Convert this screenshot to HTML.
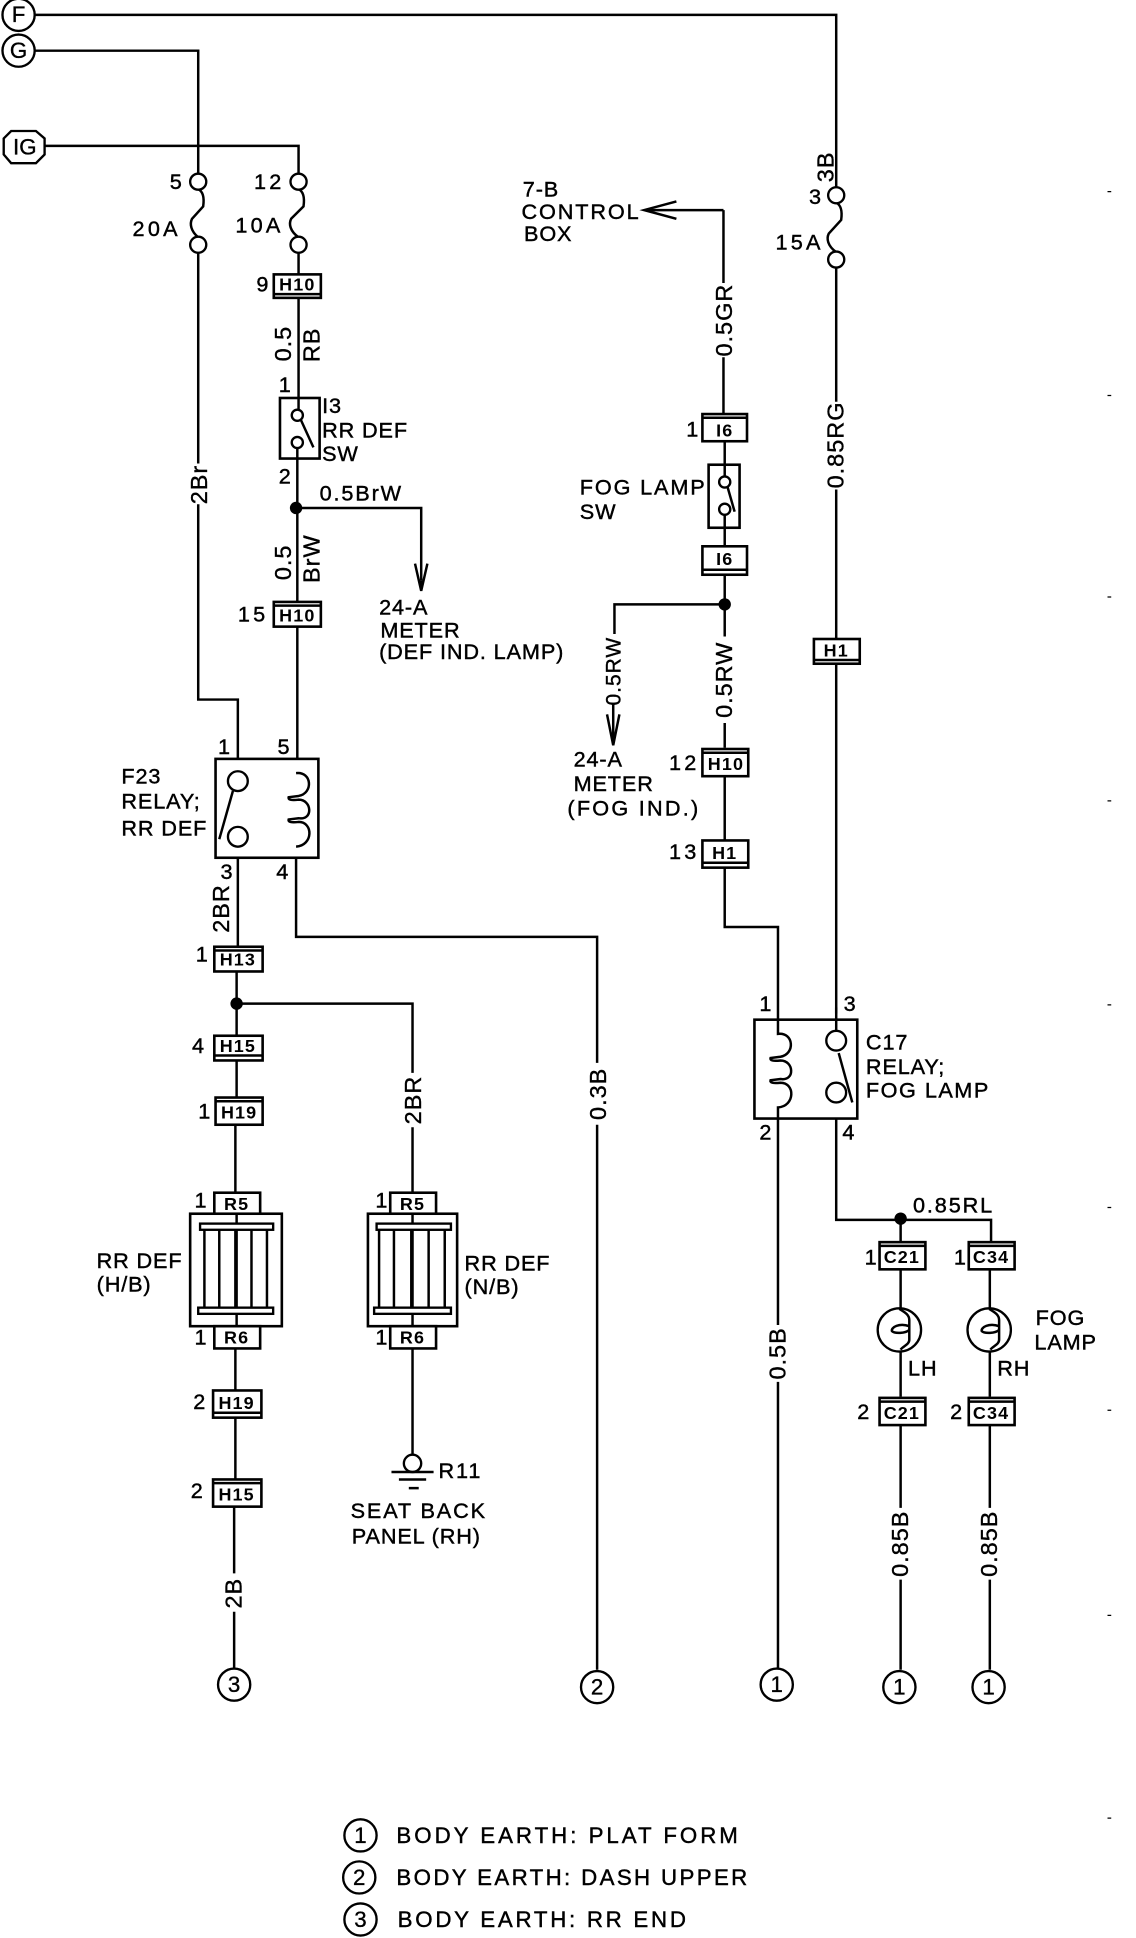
<!DOCTYPE html>
<html><head><meta charset="utf-8"><style>
html,body{margin:0;padding:0;background:#fff}
svg{display:block}
text{font-family:"Liberation Sans",sans-serif;fill:#000}
.t{font-size:17.5px;letter-spacing:.7px;stroke:#000;stroke-width:.35px}
.s{letter-spacing:1.5px}
.a{letter-spacing:2.6px}
.c{font-size:14.5px;font-weight:bold;text-anchor:middle;letter-spacing:.9px}
.r{font-size:19px;text-anchor:middle;letter-spacing:.8px;stroke:#000;stroke-width:.3px}
.m{text-anchor:middle;font-size:18px;stroke:#000;stroke-width:.3px}
.l{font-size:18px;letter-spacing:2.4px;stroke:#000;stroke-width:.35px}
.w{fill:none;stroke:#000;stroke-width:2}
.b{fill:#fff;stroke:#000;stroke-width:2.1}
.k{fill:#fff;stroke:#000;stroke-width:1.9}
</style></head><body>
<svg xmlns="http://www.w3.org/2000/svg" width="1136" height="1938" viewBox="0 0 917 1568" preserveAspectRatio="none">
<!-- wires -->
<path class="w" d="M27 12H675V152M27 41H160V141M35 118H241V141"/>
<path class="w" d="M675 216V325M675 396V820M160 204V375M160 408V566H192V623"/>
<path class="w" d="M241 204V322M240 371V487M239 411H340V470M240 507V626M239 685V758H482V860M482 910V1351"/>
<path class="w" d="M192 684V765M191 785V838M191 812H333V868M333 912V965M191 857V888M190 910V965"/>
<path class="w" d="M190 1090V1125M190 1147V1197M189 1219V1273M189 1304V1350M333 1090V1177"/>
<path class="w" d="M584 170H522M584 170V229M584 289V335M585 357V376M585 427V441M585 465V515M585 585V605M585 628V680M585 702V750H628V825M628 905V1072M628 1118V1350"/>
<path class="w" d="M585 489H496V513M495 570V600"/>
<path class="w" d="M675 850V815M675 893V987H800V1005M727 987V1005M727 1027V1060M799 1027V1060M727 1092V1130M799 1092V1130M727 1153V1220M799 1153V1220M727 1278V1351M799 1278V1351"/>
<circle cx="239" cy="411" r="5"/><circle cx="585" cy="489" r="5"/><circle cx="191" cy="812" r="5"/><circle cx="727" cy="986" r="5"/>
<!-- arrows -->
<path class="w" d="M335 456L340 478L345 456M340 470V477M490 578L495 603L500 578M495 595V602M546 163L520 170L546 177"/>
<!-- terminal circles -->
<circle class="k" cx="15" cy="12" r="13"/><text class="m" x="15" y="18">F</text>
<circle class="k" cx="15" cy="41" r="13"/><text class="m" x="15" y="47">G</text>
<path class="k" d="M9 106H29L36 112V125L29 132H9L3 125V112Z"/><text class="m" x="20" y="125">IG</text>
<!-- fuses -->
<path class="w" d="M160 153C164 155 165 160 164 167L155 177C153 181 154 187 160 192"/>
<path class="w" d="M241 153C245 155 246 160 245 167L235 177C233 181 234 187 241 192"/>
<path class="w" d="M675 164C679 166 680 171 679 178L669 189C667 193 668 199 675 204"/>
<circle class="k" cx="160" cy="147" r="6.5"/><circle class="k" cx="160" cy="198" r="6.5"/>
<circle class="k" cx="241" cy="147" r="6.5"/><circle class="k" cx="241" cy="198" r="6.5"/>
<circle class="k" cx="675" cy="158" r="6.5"/><circle class="k" cx="675" cy="210" r="6.5"/>
<text class="t" x="137" y="153">5</text><text class="t a" x="205" y="153">12</text><text class="t a" x="107" y="191">20A</text><text class="t a" x="190" y="188">10A</text>
<text class="t" x="653" y="165">3</text><text class="t a" x="626" y="202">15A</text>
<text class="r" transform="rotate(-90 673 135)" x="673" y="135">3B</text>
<!-- connectors -->
<rect class="b" x="221" y="222" width="38" height="19"/><path class="w" d="M221 238H259"/><text class="c" x="240" y="235">H10</text><text class="t" x="207" y="236">9</text>
<rect class="b" x="221" y="487" width="38" height="20"/><path class="w" d="M221 490H259"/><text class="c" x="240" y="503">H10</text><text class="t a" x="192" y="503">15</text>
<rect class="b" x="173" y="766" width="39" height="20"/><path class="w" d="M173 769H212"/><text class="c" x="192" y="781">H13</text><text class="t" x="158" y="778">1</text>
<rect class="b" x="173" y="838" width="39" height="20"/><path class="w" d="M173 854H212"/><text class="c" x="192" y="851">H15</text><text class="t" x="155" y="852">4</text>
<rect class="b" x="174" y="888" width="38" height="22"/><path class="w" d="M174 891H212"/><text class="c" x="193" y="905">H19</text><text class="t" x="160" y="905">1</text>
<rect class="b" x="172" y="1125" width="39" height="22"/><path class="w" d="M172 1143H211"/><text class="c" x="191" y="1140">H19</text><text class="t" x="156" y="1140">2</text>
<rect class="b" x="172" y="1197" width="39" height="22"/><path class="w" d="M172 1200H211"/><text class="c" x="191" y="1214">H15</text><text class="t" x="154" y="1212">2</text>
<rect class="b" x="567" y="335" width="36" height="22"/><path class="w" d="M567 338H603"/><text class="c" x="585" y="353">I6</text><text class="t" x="554" y="353">1</text>
<rect class="b" x="567" y="442" width="36" height="23"/><path class="w" d="M567 461H603"/><text class="c" x="585" y="457">I6</text>
<rect class="b" x="657" y="517" width="37" height="20"/><path class="w" d="M657 534H694"/><text class="c" x="675" y="531">H1</text>
<rect class="b" x="567" y="606" width="37" height="22"/><path class="w" d="M567 609H604"/><text class="c" x="586" y="623">H10</text><text class="t a" x="540" y="623">12</text>
<rect class="b" x="567" y="680" width="37" height="22"/><path class="w" d="M567 698H604"/><text class="c" x="585" y="695">H1</text><text class="t a" x="540" y="695">13</text>
<rect class="b" x="710" y="1005" width="37" height="22"/><path class="w" d="M710 1008H747"/><text class="c" x="728" y="1022">C21</text><text class="t" x="698" y="1023">1</text>
<rect class="b" x="782" y="1005" width="37" height="22"/><path class="w" d="M782 1008H819"/><text class="c" x="800" y="1022">C34</text><text class="t" x="770" y="1023">1</text>
<rect class="b" x="710" y="1131" width="37" height="22"/><path class="w" d="M710 1134H747"/><text class="c" x="728" y="1148">C21</text><text class="t" x="692" y="1148">2</text>
<rect class="b" x="782" y="1131" width="37" height="22"/><path class="w" d="M782 1134H819"/><text class="c" x="800" y="1148">C34</text><text class="t" x="767" y="1148">2</text>
<!-- I3 switch -->
<rect class="b" x="226" y="322" width="32" height="49"/><path class="w" d="M241 322V331M240 362V371M243 340L253 362"/><circle class="k" cx="240" cy="336" r="4.5"/><circle class="k" cx="240" cy="358" r="4.5"/>
<text class="t" x="225" y="317">1</text><text class="t" x="225" y="391">2</text>
<text class="t" x="260" y="334">I3</text><text class="t" x="260" y="354">RR DEF</text><text class="t" x="260" y="373">SW</text>
<text class="t s" x="258" y="405">0.5BrW</text>
<text class="r" transform="rotate(-90 235 278)" x="235" y="278">0.5</text><text class="r" transform="rotate(-90 258 279)" x="258" y="279">RB</text>
<text class="r" transform="rotate(-90 235 455)" x="235" y="455">0.5</text><text class="r" transform="rotate(-90 258 452)" x="258" y="452">BrW</text>
<text class="r" transform="rotate(-90 167 392)" x="167" y="392">2Br</text>
<text class="t" x="306" y="497">24-A</text><text class="t" x="307" y="516">METER</text><text class="t" x="306" y="533">(DEF IND. LAMP)</text>
<!-- F23 relay -->
<rect class="b" x="174" y="614" width="83" height="80"/>
<circle class="k" cx="192" cy="632" r="8"/><circle class="k" cx="192" cy="677" r="8"/><path class="w" d="M188 640L177 679"/>
<path class="w" d="M239 625.5C252 624 253 642 241 644L233 645Q232 648 241 647C252 647 253 664 241 662L233 663Q232 666 241 665C253 665 253 684 239 685"/>
<text class="t" x="176" y="610">1</text><text class="t" x="224" y="610">5</text><text class="t" x="178" y="711">3</text><text class="t" x="223" y="711">4</text>
<text class="t" x="98" y="634">F23</text><text class="t" x="98" y="654">RELAY;</text><text class="t" x="98" y="676">RR DEF</text>
<text class="r" transform="rotate(-90 185 735)" x="185" y="735">2BR</text>
<text class="r" transform="rotate(-90 340 890)" x="340" y="890">2BR</text>
<text class="r" transform="rotate(-90 489 885)" x="489" y="885">0.3B</text>
<!-- defoggers -->
<rect class="b" x="173" y="965" width="37" height="18"/><text class="c" x="191" y="979">R5</text><text class="t" x="157" y="977">1</text>
<rect class="b" x="315" y="965" width="37" height="18"/><text class="c" x="333" y="979">R5</text><text class="t" x="303" y="977">1</text>
<rect class="b" x="153.5" y="982" width="74" height="91"/>
<rect class="b" x="297" y="982" width="72" height="91"/>
<path class="w" d="M191 982V1073M165 994V1059M177 994V1059M190 994V1059M203 994V1059M215.500 994V1059"/>
<rect class="k" x="161.500" y="990" width="59" height="5"/><rect class="k" x="160" y="1058" width="60.500" height="5"/>
<path class="w" d="M333 982V1073M306 994V1059M318 994V1059M332 994V1059M346 994V1059M359 994V1059"/>
<rect class="k" x="304" y="990" width="60" height="5"/><rect class="k" x="302" y="1058" width="62" height="5"/>
<rect class="b" x="173" y="1073" width="37" height="18"/><text class="c" x="191" y="1087">R6</text><text class="t" x="157" y="1088">1</text>
<rect class="b" x="315" y="1073" width="37" height="18"/><text class="c" x="333" y="1087">R6</text><text class="t" x="303" y="1088">1</text>
<text class="t" x="78" y="1026">RR DEF</text><text class="t" x="78" y="1045">(H/B)</text>
<text class="t" x="375" y="1028">RR DEF</text><text class="t" x="375" y="1047">(N/B)</text>
<!-- earth -->
<circle class="k" cx="333" cy="1184" r="7"/><path class="w" d="M316 1191H350M322 1197H344M330 1204H338"/>
<text class="t s" x="354" y="1196">R11</text><text class="t s" x="283" y="1228">SEAT BACK</text><text class="t" x="284" y="1249">PANEL (RH)</text>
<text class="r" transform="rotate(-90 195 1289)" x="195" y="1289">2B</text>
<!-- control / fog switch -->
<text class="t" x="422" y="159">7-B</text><text class="t s" x="421" y="177">CONTROL</text><text class="t" x="423" y="195">BOX</text>
<text class="r" transform="rotate(-90 591 259)" x="591" y="259">0.5GR</text>
<rect class="b" x="572" y="376" width="25" height="51"/><path class="w" d="M585 376V385M585 417V427M587 393L593 414"/><circle class="k" cx="585" cy="390" r="4.5"/><circle class="k" cx="585" cy="412" r="4.5"/>
<text class="t s" x="468" y="400">FOG LAMP</text><text class="t" x="468" y="420">SW</text>
<text class="r" style="font-size:17px" transform="rotate(-90 501 543)" x="501" y="543">0.5RW</text>
<text class="r" transform="rotate(-90 591 550)" x="591" y="550">0.5RW</text>
<text class="t" x="463" y="620">24-A</text><text class="t" x="463" y="640">METER</text><text class="t" style="letter-spacing:1.8px" x="458" y="660">(FOG IND.)</text>
<text class="r" transform="rotate(-90 681 360)" x="681" y="360">0.85RG</text>
<!-- C17 relay -->
<rect class="b" x="609" y="825" width="83" height="80"/>
<circle class="k" cx="675" cy="842" r="8"/><circle class="k" cx="675" cy="884" r="8"/><path class="w" d="M677 852L688 892"/>
<path class="w" d="M628 825V836.500C641 835 642 853 630 855L622 856Q621 859 630 858C641 858 642 875 630 873L622 874Q621 877 630 876C642 876 642 895 628 896V905"/>
<path class="w" d="M675 825V834"/>
<text class="t" x="613" y="818">1</text><text class="t" x="681" y="818">3</text><text class="t" x="613" y="922">2</text><text class="t" x="680" y="922">4</text>
<text class="t" x="699" y="849">C17</text><text class="t" x="699" y="869">RELAY;</text><text class="t" style="letter-spacing:1.2px" x="699" y="888">FOG LAMP</text>
<text class="t s" x="737" y="981">0.85RL</text>
<!-- lamps -->
<circle class="k" cx="726" cy="1076" r="17.500"/><path class="w" d="M726 1059C731 1062 734 1064 734 1068V1084C734 1088 729 1089 727 1092M734 1073C726 1070 719 1074 720 1077C722 1079 731 1079 734 1076"/>
<circle class="k" cx="798.500" cy="1076" r="17.500"/><path class="w" d="M798.500 1059C803.500 1062 806.500 1064 806.500 1068V1084C806.500 1088 801.500 1089 799.500 1092M806.500 1073C798.500 1070 791.500 1074 792.500 1077C794.500 1079 803.500 1079 806.500 1076"/>
<text class="t" x="733" y="1113">LH</text><text class="t" x="805" y="1113">RH</text>
<text class="t" x="836" y="1072">FOG</text><text class="t" x="835" y="1092">LAMP</text>
<text class="r" transform="rotate(-90 634 1095)" x="634" y="1095">0.5B</text>
<text class="r" transform="rotate(-90 733 1249)" x="733" y="1249">0.85B</text>
<text class="r" transform="rotate(-90 805 1249)" x="805" y="1249">0.85B</text>
<!-- ground refs -->
<circle class="k" cx="189" cy="1363" r="13"/><text class="m" x="189" y="1369">3</text>
<circle class="k" cx="482" cy="1365" r="13"/><text class="m" x="482" y="1371">2</text>
<circle class="k" cx="627" cy="1363" r="13"/><text class="m" x="627" y="1369">1</text>
<circle class="k" cx="726" cy="1365" r="13"/><text class="m" x="726" y="1371">1</text>
<circle class="k" cx="798" cy="1365" r="13"/><text class="m" x="798" y="1371">1</text>
<!-- legend -->
<circle class="k" cx="291" cy="1485" r="13"/><text class="m" x="291" y="1491">1</text><text class="l" x="320" y="1491">BODY EARTH: PLAT FORM</text>
<circle class="k" cx="290" cy="1519" r="13"/><text class="m" x="290" y="1525">2</text><text class="l" style="letter-spacing:1.9px" x="320" y="1525">BODY EARTH: DASH UPPER</text>
<circle class="k" cx="291" cy="1553" r="13"/><text class="m" x="291" y="1559">3</text><text class="l" style="letter-spacing:2.2px" x="321" y="1559">BODY EARTH: RR END</text>
<!-- edge ticks -->
<path d="M894 155h3M894 320h3M894 483h3M894 648h3M894 813h3M894 977h3M894 1141h3M894 1307h3M894 1471h3" stroke="#000" stroke-width="1"/>
</svg>
</body></html>
